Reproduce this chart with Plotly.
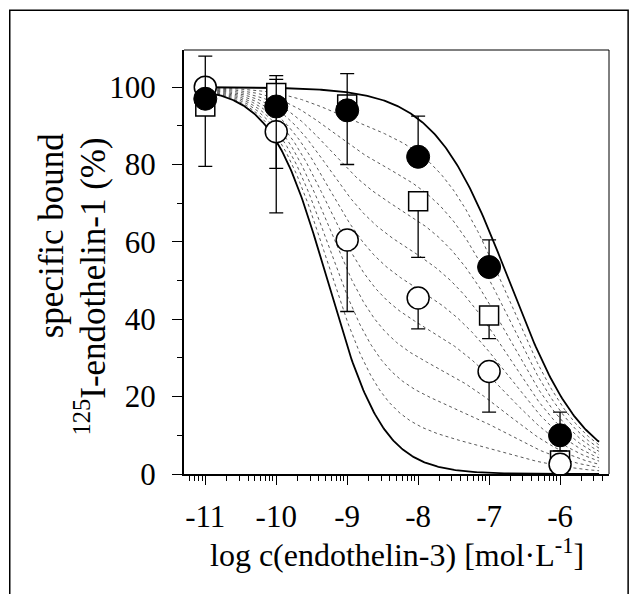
import numpy as np
import plotly.graph_objects as go

# ---- data ----
log_conc = [-11, -10, -9, -8, -7, -6]

filled_y = [97, 95, 94, 82, 53.5, 10]
filled_err_up = [11, 8, 9.5, 10.5, 7, 6]
filled_err_down = [0, 16, 14, 0, 0, 4]

square_y = [95, 98.5, 95.5, 70.5, 41, 3.5]
square_err_up = [0, 3.5, 0, 0, 0, 0]
square_err_down = [15.5, 0, 0, 14.5, 6, 0]

open_y = [100, 88.5, 60.5, 45.5, 26.5, 2.5]
open_err_up = [0, 0, 0, 0, 0, 0]
open_err_down = [0, 21, 18.5, 8, 10.5, 0]

# fitted one-site curves (log IC50, Hill slope) and mixture fractions of the dotted family
high_site = (-9.28, 1.1)
low_site = (-6.72, 0.82)
mix_fractions = [0.1, 0.2, 0.3, 0.4, 0.5, 0.6, 0.7, 0.8, 0.9]
curve_range = (-11.0, -5.45)

x_ticks = [-11, -10, -9, -8, -7, -6]
y_ticks = [0, 20, 40, 60, 80, 100]

FONT = "Liberation Serif, Times New Roman, serif"
FS = 31

def site(x, p):
    c, h = p
    return 100.0 / (1.0 + 10 ** ((x - c) * h))

xs = np.linspace(curve_range[0], curve_range[1], 300)
y_high = site(xs, high_site)
y_low = site(xs, low_site)

fig = go.Figure()

for f in mix_fractions:
    fig.add_trace(go.Scatter(x=xs, y=(1 - f) * y_high + f * y_low, mode="lines",
                             line=dict(color="#5a5a5a", width=1, dash="dot"),
                             hoverinfo="skip", showlegend=False))
for yy in (y_high, y_low):
    fig.add_trace(go.Scatter(x=xs, y=yy, mode="lines",
                             line=dict(color="black", width=1.8),
                             hoverinfo="skip", showlegend=False))

def err(up, down):
    return dict(type="data", symmetric=False, array=up, arrayminus=down,
                color="black", thickness=1.3, width=7)

fig.add_trace(go.Scatter(x=log_conc, y=square_y, mode="markers",
                         marker=dict(symbol="square", size=19, color="white",
                                     line=dict(color="black", width=1.5)),
                         error_y=err(square_err_up, square_err_down), showlegend=False))
fig.add_trace(go.Scatter(x=log_conc, y=open_y, mode="markers",
                         marker=dict(symbol="circle", size=22, color="white",
                                     line=dict(color="black", width=1.5)),
                         error_y=err(open_err_up, open_err_down), showlegend=False))
fig.add_trace(go.Scatter(x=log_conc, y=filled_y, mode="markers",
                         marker=dict(symbol="circle", size=23, color="black",
                                     line=dict(color="black", width=1)),
                         error_y=err(filled_err_up, filled_err_down), showlegend=False))

# log-spaced minor ticks
minor_x = []
for d in range(-12, -5):
    for k in range(2, 10):
        v = d + np.log10(k)
        if -11.3 <= v <= -5.31:
            minor_x.append(float(v))

fig.update_layout(
    width=638, height=594,
    margin=dict(l=184, r=29, t=50, b=120),
    paper_bgcolor="white", plot_bgcolor="white",
    font=dict(family=FONT, size=FS, color="black"),
    xaxis=dict(range=[-11.3, -5.31], tickmode="array", tickvals=x_ticks,
               ticktext=[str(v) for v in x_ticks],
               ticks="outside", ticklen=9, tickwidth=1.3, tickcolor="black",
               ticklabelstandoff=5,
               showline=True, linecolor="black", linewidth=2,
               showgrid=False, zeroline=False,
               minor=dict(tickmode="array", tickvals=minor_x, ticks="outside",
                          ticklen=5, tickwidth=1, tickcolor="black", showgrid=False),
               tickfont=dict(family=FONT, size=FS, color="black")),
    yaxis=dict(range=[0, 109.6], tickmode="array", tickvals=y_ticks,
               ticktext=[str(v) for v in y_ticks],
               ticks="outside", ticklen=10, tickwidth=1.3, tickcolor="black",
               ticklabelstandoff=10,
               showline=True, linecolor="black", linewidth=2,
               showgrid=False, zeroline=False,
               minor=dict(tickmode="array", tickvals=[10, 30, 50, 70, 90],
                          ticks="outside", ticklen=5, tickwidth=1,
                          tickcolor="black", showgrid=False),
               tickfont=dict(family=FONT, size=FS, color="black")),
    shapes=[
        dict(type="line", xref="paper", yref="paper", x0=0, x1=1, y0=1, y1=1,
             line=dict(color="black", width=1)),
        dict(type="line", xref="paper", yref="paper", x0=1, x1=1, y0=0, y1=1,
             line=dict(color="black", width=1)),
        dict(type="rect", xref="paper", yref="paper", x0=-0.410, x1=1.045,
             y0=-0.30, y1=1.094, line=dict(color="black", width=1.5)),
    ],
    annotations=[
        dict(text="specific bound", xref="paper", yref="paper",
             x=-0.312, y=0.564, textangle=-90, showarrow=False,
             xanchor="center", yanchor="middle",
             font=dict(family=FONT, size=35, color="black")),
        dict(text="<sup>125</sup>I-endothelin-1 (%)", xref="paper", yref="paper",
             x=-0.22, y=0.441, textangle=-90, showarrow=False,
             xanchor="center", yanchor="middle",
             font=dict(family=FONT, size=35, color="black")),
        dict(text="log c(endothelin-3) [mol·L<sup>-1</sup>]", xref="paper", yref="paper",
             x=0.5, y=-0.186, showarrow=False, xanchor="center", yanchor="middle",
             font=dict(family=FONT, size=32, color="black")),
    ],
)

fig.write_html("out.html", config={"displayModeBar": False},
               post_script="document.body.style.margin='0';")
